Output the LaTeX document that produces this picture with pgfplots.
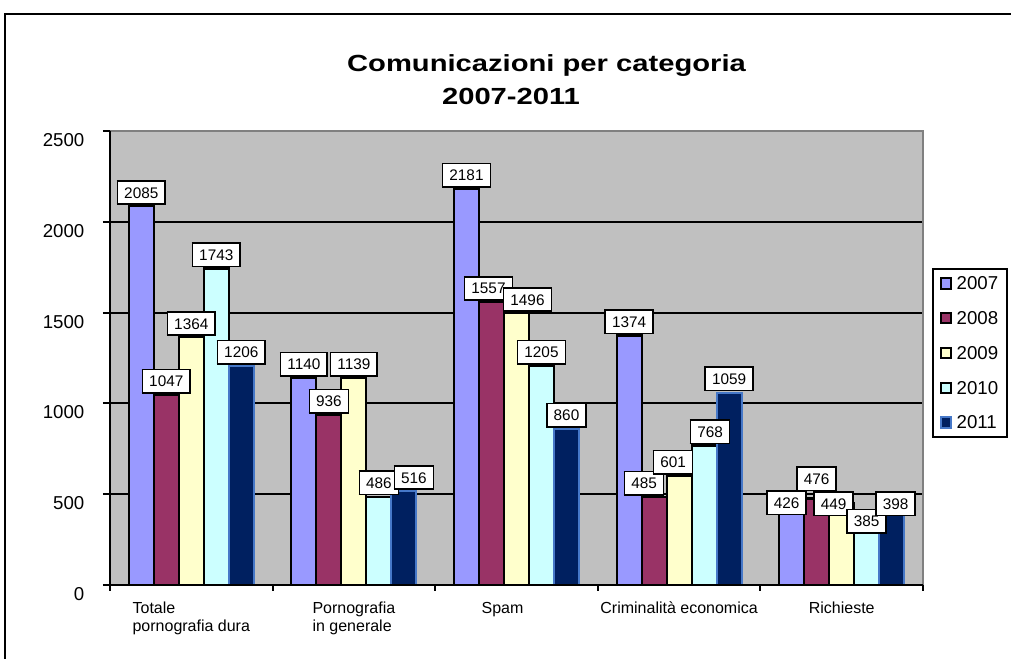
\documentclass[border=0pt]{standalone}
\usepackage{fontspec}
\setmainfont{Liberation Sans}
\newfontfamily\titlefont[FakeStretch=1.25]{Liberation Sans}
\usepackage{pgfplots}
\pgfplotsset{compat=1.18}

\definecolor{plotbg}{RGB}{192,192,192}
\definecolor{c2007}{RGB}{153,153,255}
\definecolor{c2008}{RGB}{153,51,102}
\definecolor{c2009}{RGB}{255,255,204}
\definecolor{c2010}{RGB}{204,255,255}
\definecolor{c2011}{RGB}{0,32,96}
\definecolor{e2011}{RGB}{70,120,200}
\definecolor{edgegray}{RGB}{128,128,128}

% white boxed value label
\newcommand{\vallabel}[1]{{\setlength{\fboxsep}{0pt}\setlength{\fboxrule}{1.2pt}%
  \fcolorbox{black}{white}{\rule[-4.05pt]{0pt}{16.35pt}\hspace*{4.5pt}\fontsize{11.5}{13}\selectfont #1\hspace*{4.5pt}}}}

% 1px = 0.75pt; plot area 813 x 454 px
\pgfplotsset{
  barlabel/.style={forget plot, draw=none, fill=none, bar shift=#1,
    nodes near coords={\vallabel{\pgfmathprintnumber{\pgfplotspointmeta}}},
    every node near coord/.style={inner sep=0pt, anchor=south, xshift=#1, yshift=0.75pt, text=black}},
}
\begin{document}
\begin{tikzpicture}
\begin{axis}[
    at={(0pt,0pt)}, anchor=south west,
    scale only axis,
    width=609.75pt, height=340.5pt,
    ybar=0pt, bar width=18.75pt,
    xmin=-0.5, xmax=4.5,
    ymin=0, ymax=2500,
    xtick={0,...,4},
    xticklabels={{Totale\\pornografia dura},{Pornografia\\in generale},{Spam\hspace*{21pt}},{Criminalità economica},{Richieste}},
    minor xtick={-0.5,0.5,...,4.5},
    ytick={0,500,...,2500},
    ymajorgrids,
    grid style={black, line width=1.5pt},
    axis background/.style={fill=plotbg},
    axis line style={draw=none},
    tick align=outside, tick pos=left,
    major tick length=5.25pt, minor tick length=4.5pt,
    major x tick style={draw=none},
    minor x tick style={black, line width=1.5pt},
    ytick style={black, line width=1.5pt},
    /pgf/number format/1000 sep={},
    /pgf/number format/assume math mode=true,
    yticklabel style={font=\fontsize{14}{16}\selectfont, yshift=-6.75pt, xshift=-10.5pt},
    xticklabel style={align=left, font=\fontsize{12}{13.5}\selectfont, anchor=north, yshift=-4pt},
    legend style={at={(1,0.698)}, anchor=north west, xshift=6.75pt,
        draw=black, line width=1.5pt, fill=white,
        font=\fontsize{14}{16}\selectfont,
        inner xsep=5pt, inner ysep=5pt, row sep=14.6pt,
        nodes={text height=9.5pt, text depth=0pt, inner ysep=1pt, inner xsep=1.5pt},
        /tikz/every odd column/.append style={column sep=2pt}},
    legend cell align=left,
    legend image code/.code={\draw[#1, line width=1.5pt] (0pt,-3.9pt) rectangle (7.8pt,3.9pt);},
]
\addplot[bar shift=-37.5pt, fill=c2007, draw=black, line width=1.6pt] coordinates {(0,2085) (1,1140) (2,2181) (3,1374) (4,426)};
\addplot[bar shift=-18.75pt, fill=c2008, draw=black, line width=1.6pt] coordinates {(0,1047) (1,936) (2,1557) (3,485) (4,476)};
\addplot[bar shift=0pt, fill=c2009, draw=black, line width=1.6pt] coordinates {(0,1364) (1,1139) (2,1496) (3,601) (4,449)};
\addplot[bar shift=18.75pt, fill=c2010, draw=black, line width=1.6pt] coordinates {(0,1743) (1,486) (2,1205) (3,768) (4,385)};
\addplot[bar shift=37.5pt, fill=c2011, draw=e2011, line width=1.6pt] coordinates {(0,1206) (1,516) (2,860) (3,1059) (4,398)};
\legend{2007,2008,2009,2010,2011}
% value labels, drawn after all bars; some nudged like the original
\addplot[barlabel=-37.5pt,
  coordinate style/.condition={\coordindex==4}{xshift=-3.75pt, yshift=-6.75pt}]
  coordinates {(0,2085) (1,1140) (2,2181) (3,1374) (4,426)};
\addplot[barlabel=-18.75pt,
  coordinate style/.condition={\coordindex==2}{xshift=-2.25pt},
  coordinate style/.condition={\coordindex==3}{xshift=-7.5pt},
  coordinate style/.condition={\coordindex==4}{yshift=4.5pt}]
  coordinates {(0,1047) (1,936) (2,1557) (3,485) (4,476)};
\addplot[barlabel=0pt,
  coordinate style/.condition={\coordindex==2}{xshift=8.25pt},
  coordinate style/.condition={\coordindex==3}{xshift=-4.5pt},
  coordinate style/.condition={\coordindex==4}{xshift=-6pt, yshift=-10.5pt}]
  coordinates {(0,1364) (1,1139) (2,1496) (3,601) (4,449)};
\addplot[barlabel=18.75pt,
  coordinate style/.condition={\coordindex==3}{xshift=4.5pt},
  coordinate style/.condition={\coordindex==4}{yshift=-15pt}]
  coordinates {(0,1743) (1,486) (2,1205) (3,768) (4,385)};
\addplot[barlabel=37.5pt,
  coordinate style/.condition={\coordindex==1}{xshift=7.5pt},
  coordinate style/.condition={\coordindex==4}{xshift=3pt, yshift=-3.75pt}]
  coordinates {(0,1206) (1,516) (2,860) (3,1059) (4,398)};
\end{axis}
\begin{scope}[x=0.75pt, y=0.75pt]
  % plot area edges
  \draw[edgegray, line width=2.2pt] (0,454) -- (813,454) -- (813,0);
  \draw[black, line width=2.2pt] (0,454) -- (0,0) -- (813,0);
  % title
  \node[anchor=base, font=\titlefont\bfseries\fontsize{17.5}{20}\selectfont] at (436.5,513) {Comunicazioni per categoria};
  \node[anchor=base, font=\titlefont\bfseries\fontsize{17.5}{20}\selectfont] at (401,480) {2007-2011};
  % outer frame
  \draw[black, line width=2pt] (-105,-200) rectangle (1000,571);
  \pgfresetboundingbox
  \path[use as bounding box] (-110,-74) rectangle (901,585);
\end{scope}
\end{tikzpicture}
\end{document}
